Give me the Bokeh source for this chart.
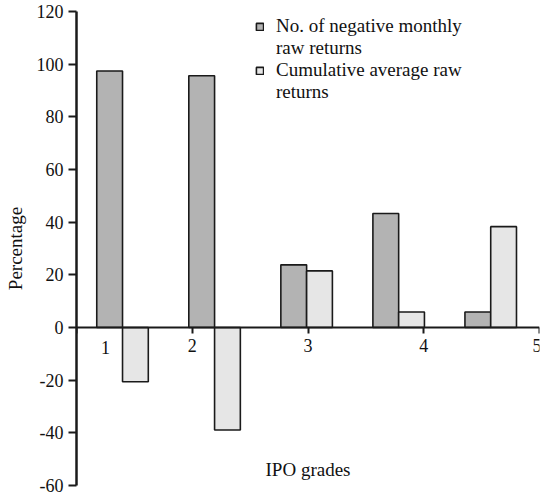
from bokeh.plotting import figure
from bokeh.models import (ColumnDataSource, Legend, LegendItem, FixedTicker, Label,
                          Range1d)
from bokeh.transform import dodge
from bokeh.embed import file_html
from bokeh.resources import INLINE

# ---- data ----
grades = [1, 2, 3, 4, 5]
neg_monthly = [97.4, 95.6, 23.8, 43.3, 5.9]
cum_avg = [-20.6, -38.9, 21.5, 5.9, 38.3]
x_tick_labels = ["1", "2", "3", "4", "5"]
y_ticks = [-60, -40, -20, 0, 20, 40, 60, 80, 100, 120]
series_names = [["No. of negative monthly", "raw returns"],
                ["Cumulative average raw", "returns"]]

# ---- layout constants ----
X_LO, X_HI = 0.5, 5.53
BAR_W = 0.28
FONT = "Liberation Serif"
DARK = "#b3b3b3"
LIGHT = "#e6e6e6"
EDGE = "#1a1a1a"
TXT = "#111111"

src = ColumnDataSource(dict(grade=grades, neg=neg_monthly, cum=cum_avg))

p = figure(width=541, height=495, output_backend="svg", toolbar_location=None,
           x_range=Range1d(X_LO, X_HI), y_range=Range1d(-60, 120),
           min_border_left=76, min_border_right=2, min_border_top=11,
           min_border_bottom=10)
p.outline_line_color = None
p.grid.visible = False

r1 = p.vbar(x=dodge("grade", -BAR_W / 2, range=p.x_range), top="neg", bottom=0,
            width=BAR_W, source=src, fill_color=DARK, line_color=EDGE, line_width=1.6)
r2 = p.vbar(x=dodge("grade", BAR_W / 2, range=p.x_range), top="cum", bottom=0,
            width=BAR_W, source=src, fill_color=LIGHT, line_color=EDGE, line_width=1.6)
# invisible renderer used for the continuation lines of the legend labels
r_blank = p.vbar(x=[], top=[], width=BAR_W, fill_alpha=0, line_alpha=0)

# y axis
ya = p.yaxis[0]
ya.ticker = FixedTicker(ticks=y_ticks)
ya.major_label_overrides = {t: str(t) for t in y_ticks}
ya.minor_tick_line_color = None
ya.major_tick_in = 0
ya.major_tick_out = 8
ya.major_tick_line_width = 2
ya.major_tick_line_color = EDGE
ya.axis_line_width = 2.5
ya.axis_line_color = EDGE
ya.major_label_text_font = FONT
ya.major_label_text_font_size = "18px"
ya.major_label_text_color = TXT
ya.major_label_standoff = 5
ya.axis_label = "Percentage"
ya.axis_label_text_font = FONT
ya.axis_label_text_font_size = "19px"
ya.axis_label_text_font_style = "normal"
ya.axis_label_text_color = TXT
ya.axis_label_standoff = 8

# x axis at y = 0
n = len(x_tick_labels)
tick_pos = [X_LO + k * (X_HI - X_LO) / (n - 1) for k in range(n)]
xa = p.xaxis[0]
xa.fixed_location = 0
xa.ticker = FixedTicker(ticks=tick_pos)
overrides = {tp: lab for tp, lab in zip(tick_pos, x_tick_labels)}
overrides[tick_pos[0]] = ""
xa.major_label_overrides = overrides
xa.minor_tick_line_color = None
xa.major_tick_in = 0
xa.major_tick_out = 6
xa.major_tick_line_width = 2
xa.major_tick_line_color = EDGE
xa.axis_line_width = 1.8
xa.axis_line_color = EDGE
xa.major_label_text_font = FONT
xa.major_label_text_font_size = "18px"
xa.major_label_text_color = TXT
xa.major_label_standoff = 5

p.add_layout(Label(x=tick_pos[0], y=0, x_offset=29, y_offset=-20, text=x_tick_labels[0],
                   text_font=FONT, text_font_size="18px", text_color=TXT,
                   text_align="center", text_baseline="middle"))
p.add_layout(Label(x=(X_LO + X_HI) / 2, y=-54, text="IPO grades",
                   text_font=FONT, text_font_size="19px", text_color=TXT,
                   text_align="center", text_baseline="middle"))

legend = Legend(items=[LegendItem(label=series_names[0][0], renderers=[r1]),
                       LegendItem(label=series_names[0][1], renderers=[r_blank]),
                       LegendItem(label=series_names[1][0], renderers=[r2]),
                       LegendItem(label=series_names[1][1], renderers=[r_blank])],
                location=(179, 382), padding=0, margin=0, spacing=0,
                border_line_alpha=0, background_fill_alpha=0,
                glyph_width=9, glyph_height=9, label_standoff=12, label_height=21,
                label_text_font=FONT, label_text_font_size="19px",
                label_text_color=TXT)
p.add_layout(legend, "center")

open("out.html", "w").write(file_html(p, INLINE))
